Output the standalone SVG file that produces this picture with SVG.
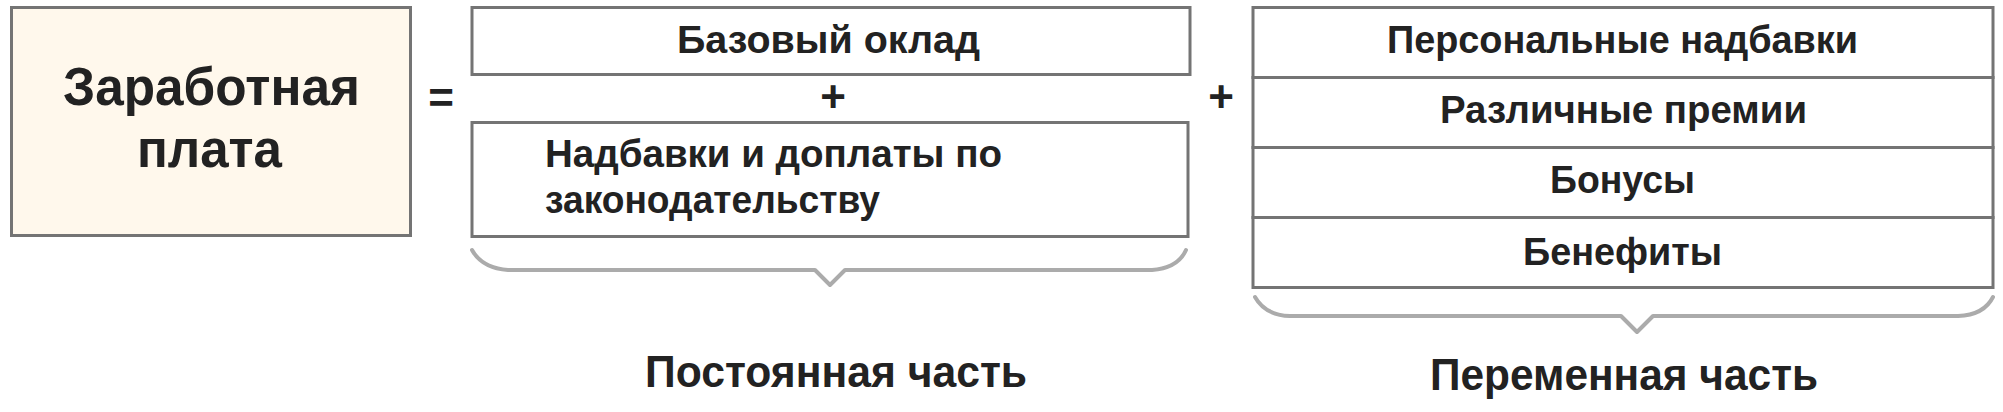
<svg xmlns="http://www.w3.org/2000/svg" width="2003" height="412" viewBox="0 0 2003 412">
<style>
.box{fill:#ffffff;stroke:#747474;stroke-width:3}
.main{fill:#fff8ec}
.t{font-family:"Liberation Sans",Arial,sans-serif;font-weight:bold;fill:#222222}
.m{font-size:38px}
.big{font-size:54px}
.lbl{font-size:45px}
.op{font-size:44px;text-anchor:middle}
.brace{fill:none;stroke:#ababab;stroke-width:4;stroke-linejoin:round;stroke-linecap:round}
</style>
<rect width="2003" height="412" fill="#ffffff"/>
<g id="salary">
<rect class="box main" x="11.5" y="7.5" width="399" height="228"/>
<text class="t big" x="63" y="105" textLength="297" lengthAdjust="spacingAndGlyphs">Заработная</text>
<text class="t big" x="137" y="167" textLength="145" lengthAdjust="spacingAndGlyphs">плата</text>
</g>
<text class="t op" x="441" y="113">=</text>
<g id="base-salary">
<rect class="box" x="472" y="7.5" width="718" height="67"/>
<text class="t m" x="677" y="53" textLength="303" lengthAdjust="spacingAndGlyphs">Базовый оклад</text>
</g>
<text class="t op" x="833" y="112">+</text>
<g id="legal-allowances">
<rect class="box" x="472" y="122.5" width="716" height="114"/>
<text class="t m" x="545" y="167" textLength="457" lengthAdjust="spacingAndGlyphs">Надбавки и доплаты по</text>
<text class="t m" x="545" y="213" textLength="335" lengthAdjust="spacingAndGlyphs">законодательству</text>
</g>
<text class="t op" x="1221" y="112">+</text>
<g id="personal-allowances">
<rect class="box" x="1253" y="7.5" width="740" height="70"/>
<text class="t m" x="1387" y="53" textLength="471" lengthAdjust="spacingAndGlyphs">Персональные надбавки</text>
</g>
<g id="bonuses-various">
<rect class="box" x="1253" y="77.5" width="740" height="70"/>
<text class="t m" x="1440" y="123" textLength="367" lengthAdjust="spacingAndGlyphs">Различные премии</text>
</g>
<g id="bonuses">
<rect class="box" x="1253" y="147.5" width="740" height="70"/>
<text class="t m" x="1550" y="193" textLength="145" lengthAdjust="spacingAndGlyphs">Бонусы</text>
</g>
<g id="benefits">
<rect class="box" x="1253" y="217.5" width="740" height="70"/>
<text class="t m" x="1523" y="265" textLength="199" lengthAdjust="spacingAndGlyphs">Бенефиты</text>
</g>
<g id="connectors">
<path class="brace" d="M472,250 Q482,268 508,270 L815,270 L830,285 L845,270 L1152,270 Q1178,268 1186,250"/>
<path class="brace" d="M1255,297 Q1265,315 1290,316 L1621,316 L1637,332 L1653,316 L1958,316 Q1984,315 1993,297"/>
</g>
<g id="fixed-part">
<text class="t lbl" x="645" y="387" textLength="382" lengthAdjust="spacingAndGlyphs">Постоянная часть</text>
</g>
<g id="variable-part">
<text class="t lbl" x="1430" y="390" textLength="388" lengthAdjust="spacingAndGlyphs">Переменная часть</text>
</g>
</svg>
